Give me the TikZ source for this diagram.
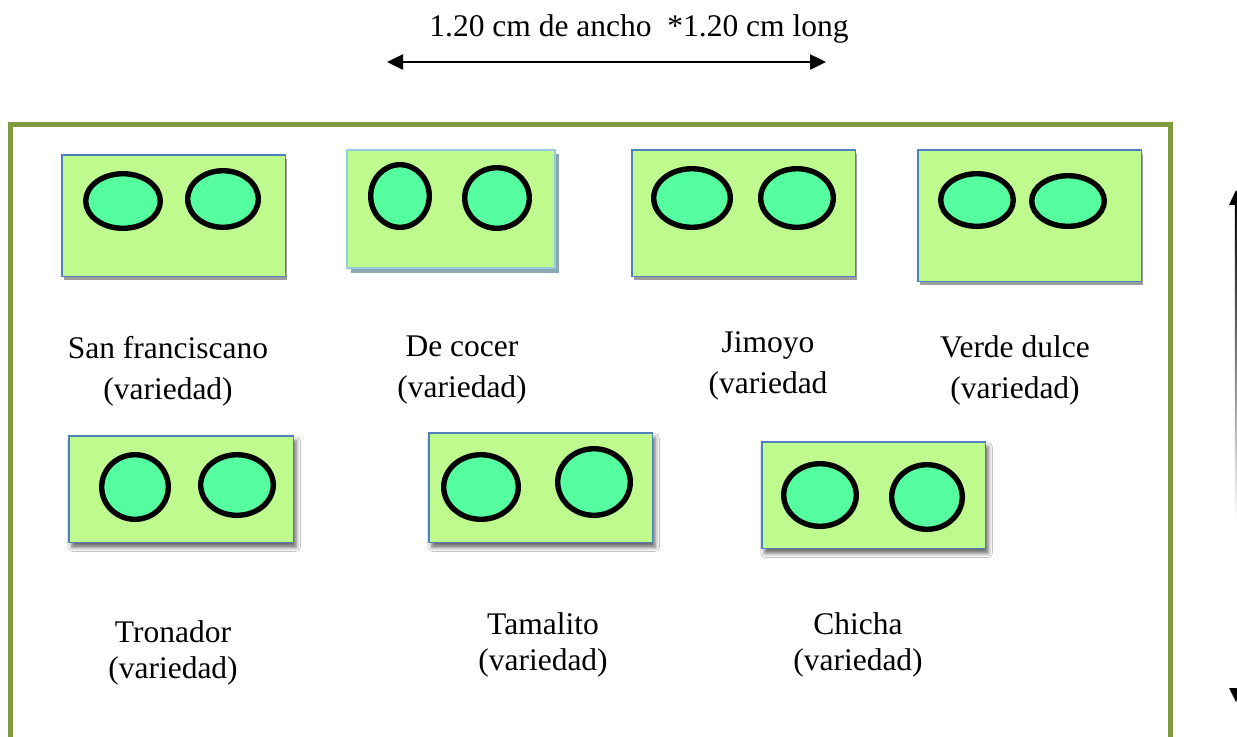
\documentclass[tikz,border=0pt]{standalone}
\usepackage{fontspec}
\setmainfont{Liberation Serif}
\usetikzlibrary{shapes.geometric,shadows,shadows.blur,arrows.meta}
\definecolor{frameolive}{RGB}{127,155,62}
\definecolor{boxfill}{RGB}{190,250,142}
\definecolor{boxedge}{RGB}{79,129,189}
\definecolor{boxedgelight}{RGB}{147,205,221}
\definecolor{shadowblue}{RGB}{140,168,178}
\definecolor{ovalfill}{RGB}{85,255,160}
\newcommand\mkbox[6]{\node[#6, minimum width={(#4-#2)*0.5pt-0.75pt}, minimum height={(#5-#3)*0.5pt-0.75pt}] (#1) at ({(#2+#4)/2},{(#3+#5)/2}) {};}
\newcommand\mkoval[5]{\node[ov, minimum width={#4pt-2.7pt}, minimum height={#5pt-2.7pt}] (#1) at (#2,#3) {};}
\begin{document}
\begin{tikzpicture}[x=0.5pt,y=-0.5pt,
  vbox/.style={rectangle, draw=boxedge, line width=0.75pt, fill=boxfill, inner sep=0pt, outer sep=0pt},
  hardsh/.style={vbox, drop shadow={shadow xshift=1pt, shadow yshift=-2pt, fill=black!38, opacity=1}},
  bluesh/.style={vbox, draw=boxedgelight, line width=1.1pt, drop shadow={shadow xshift=2pt, shadow yshift=-2.2pt, fill=shadowblue, opacity=1}},
  softsh/.style={vbox, blur shadow={shadow xshift=1.5pt, shadow yshift=-2.5pt, shadow blur radius=2pt, shadow opacity=60}},
  ov/.style={ellipse, draw=black, line width=2.7pt, fill=ovalfill, inner sep=0pt, outer sep=0pt},
  lbl/.style={align=center, inner sep=0pt, font=\fontsize{15.75}{20.5}\selectfont},
  lblb/.style={align=center, inner sep=0pt, font=\fontsize{15.75}{17.75}\selectfont},
  dim/.style={line width=1.25pt, {Triangle[length=8pt,width=7.5pt]}-{Triangle[length=8pt,width=7.5pt]}}
]
\useasboundingbox (0,0) rectangle (1237,736);
\fill[white] (0,0) rectangle (1237,736);

% outer frame
\draw[frameolive, line width=2.5pt] (10.5,770) -- (10.5,124) -- (1170,124) -- (1170,770);

% top dimension
\node[inner sep=0pt, font=\fontsize{15.75}{18}\selectfont] (title) at (639,29) {1.20 cm de ancho \ *1.20 cm long};
\coordinate (tl) at (387,62);
\coordinate (tr) at (826,62);
\draw[dim] (tl) -- (tr);

% right dimension (fading line)
\coordinate (rt) at (1236,190);
\coordinate (rb) at (1236,702);
\shade[top color=black, bottom color=white] (1234.8,200) rectangle (1237.2,520);
\fill[black] (rt) -- ++(-7,15) -- ++(14,0) -- cycle;
\fill[black] (rb) -- ++(-7,-14) -- ++(14,0) -- cycle;

% top row boxes
\mkbox{b1}{61}{154}{286}{277}{hardsh}
\mkoval{o11}{123}{201}{40}{30}
\mkoval{o12}{223}{199}{38}{31}

\mkbox{b2}{346}{149}{556}{269}{bluesh}
\mkoval{o21}{400}{196}{32}{34}
\mkoval{o22}{497}{198}{35}{33}

\mkbox{b3}{631}{149}{856}{277}{hardsh}
\mkoval{o31}{692}{198}{41}{32}
\mkoval{o32}{797}{198}{39}{32}

\mkbox{b4}{917}{149}{1142}{282}{hardsh}
\mkoval{o41}{977}{200}{39}{29}
\mkoval{o42}{1068}{201}{39}{28}

% bottom row boxes
\mkbox{b5}{68}{435}{294}{543}{softsh}
\mkoval{o51}{135}{487}{36}{35}
\mkoval{o52}{237}{485}{39}{33}

\mkbox{b6}{428}{432}{653}{543}{softsh}
\mkoval{o61}{481}{487}{40}{35}
\mkoval{o62}{594}{482}{39}{36}

\mkbox{b7}{761}{441}{986}{549}{softsh}
\mkoval{o71}{820}{495}{39}{34}
\mkoval{o72}{927}{497}{38}{35}

% labels
\node[lbl] (l1) at (168,371) {San franciscano\\(variedad)};
\node[lbl] (l2) at (462,370) {De cocer\\(variedad)};
\node[lbl] (l3) at (768,366) {Jimoyo\\(variedad};
\node[lbl] (l4) at (1015,370) {Verde dulce\\(variedad)};
\node[lblb] (l5) at (173,653) {Tronador\\(variedad)};
\node[lblb] (l6) at (543,645) {Tamalito\\(variedad)};
\node[lblb] (l7) at (858,645) {Chicha\\(variedad)};
\end{tikzpicture}
\end{document}
